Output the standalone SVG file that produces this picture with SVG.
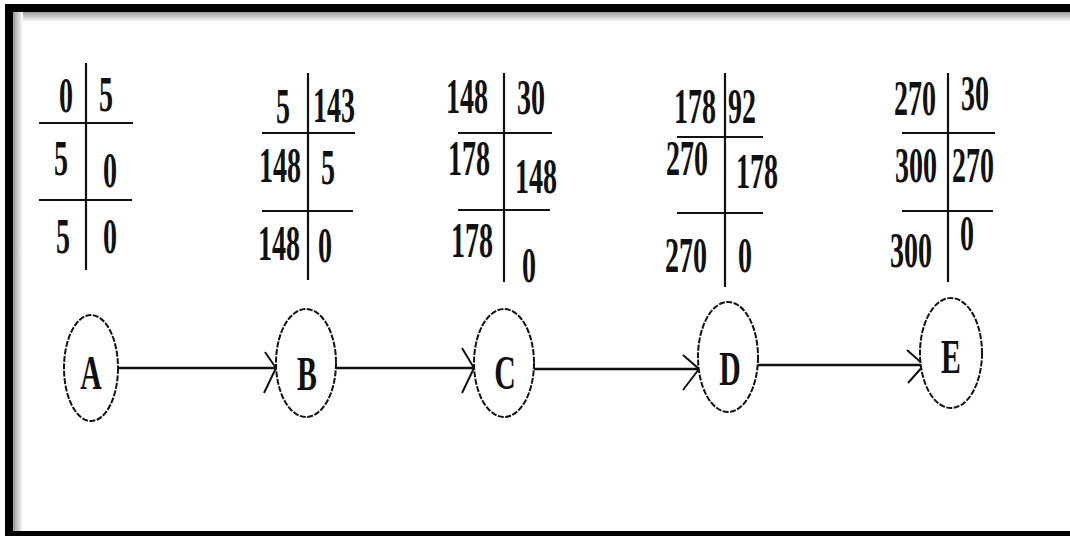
<svg xmlns="http://www.w3.org/2000/svg" width="1070" height="536" viewBox="0 0 1070 536">
<defs>
<linearGradient id="gTop" x1="0" y1="0" x2="0" y2="1"><stop offset="0" stop-color="#9a9a9a"/><stop offset="1" stop-color="#ffffff"/></linearGradient>
<linearGradient id="gLeft" x1="0" y1="0" x2="1" y2="0"><stop offset="0" stop-color="#9a9a9a"/><stop offset="1" stop-color="#ffffff"/></linearGradient>
<style>
.t{font-family:"Liberation Serif","Times New Roman",serif;font-weight:bold;font-size:50px;fill:#111;text-anchor:middle}
.L{font-size:48px}
.ln{stroke:#111;stroke-width:2.2;fill:none}
.nd{fill:#fff;stroke:#111;stroke-width:2;stroke-dasharray:6 1.5}
.ed{stroke:#111;stroke-width:2.6;fill:none}
.ah{stroke:#111;stroke-width:2;fill:none}
</style>
</defs>
<rect x="0" y="0" width="1070" height="536" fill="#fff"/>
<g id="frame">
<rect x="13" y="12" width="1057" height="10" fill="url(#gTop)"/>
<rect x="13" y="12" width="10" height="519" fill="url(#gLeft)"/>
<rect x="5" y="4" width="1065" height="8" fill="#000"/>
<rect x="5" y="4" width="8" height="532" fill="#000"/>
<rect x="5" y="531" width="1065" height="5" fill="#000"/>
</g>
<g id="table-A">
<path class="ln" d="M86 63V270M39 123H133M39 200H132"/>
<text class="t" transform="translate(66 112) scale(0.56 1)">0</text>
<text class="t" transform="translate(106 111) scale(0.56 1)">5</text>
<text class="t" transform="translate(61 175) scale(0.56 1)">5</text>
<text class="t" transform="translate(110 187) scale(0.56 1)">0</text>
<text class="t" transform="translate(63 253) scale(0.56 1)">5</text>
<text class="t" transform="translate(110 253) scale(0.56 1)">0</text>
</g>
<g id="table-B">
<path class="ln" d="M308 73V280M262 133H355M262 211H353"/>
<text class="t" transform="translate(283 123) scale(0.56 1)">5</text>
<text class="t" transform="translate(334 122) scale(0.56 1)">143</text>
<text class="t" transform="translate(280 182) scale(0.56 1)">148</text>
<text class="t" transform="translate(328 184) scale(0.56 1)">5</text>
<text class="t" transform="translate(279 260) scale(0.56 1)">148</text>
<text class="t" transform="translate(325 262) scale(0.56 1)">0</text>
</g>
<g id="table-C">
<path class="ln" d="M504 73V282M458 133H552M458 210H550"/>
<text class="t" transform="translate(467 113) scale(0.56 1)">148</text>
<text class="t" transform="translate(531 114) scale(0.56 1)">30</text>
<text class="t" transform="translate(469 175) scale(0.56 1)">178</text>
<text class="t" transform="translate(536 193) scale(0.56 1)">148</text>
<text class="t" transform="translate(472 257) scale(0.56 1)">178</text>
<text class="t" transform="translate(529 282) scale(0.56 1)">0</text>
</g>
<g id="table-D">
<path class="ln" d="M725 73V287M677 137H763M677 213H763"/>
<text class="t" transform="translate(695 123) scale(0.56 1)">178</text>
<text class="t" transform="translate(742 123) scale(0.56 1)">92</text>
<text class="t" transform="translate(687 175) scale(0.56 1)">270</text>
<text class="t" transform="translate(757 188) scale(0.56 1)">178</text>
<text class="t" transform="translate(686 272) scale(0.56 1)">270</text>
<text class="t" transform="translate(745 272) scale(0.56 1)">0</text>
</g>
<g id="table-E">
<path class="ln" d="M948 73V282M902 133H995M902 211H993"/>
<text class="t" transform="translate(915 115) scale(0.56 1)">270</text>
<text class="t" transform="translate(975 110) scale(0.56 1)">30</text>
<text class="t" transform="translate(916 182) scale(0.56 1)">300</text>
<text class="t" transform="translate(973 182) scale(0.56 1)">270</text>
<text class="t" transform="translate(911 267) scale(0.56 1)">300</text>
<text class="t" transform="translate(967 250) scale(0.56 1)">0</text>
</g>
<g id="connectors">
<path class="ed" d="M119 368H276"/>
<path class="ah" d="M265 352L276 368L264 393"/>
<path class="ed" d="M336 368H474"/>
<path class="ah" d="M462 348L474 368L462 393"/>
<path class="ed" d="M534 369H699"/>
<path class="ah" d="M683 355L699 369L683 390"/>
<path class="ed" d="M758 365H924"/>
<path class="ah" d="M907 350L924 365L908 383"/>
</g>
<g id="node-A">
<ellipse class="nd" cx="91" cy="368" rx="27" ry="53"/>
<text class="t L" transform="translate(91 389) scale(0.62 1)">A</text>
</g>
<g id="node-B">
<ellipse class="nd" cx="306" cy="363" rx="30" ry="54"/>
<text class="t L" transform="translate(307 390) scale(0.62 1)">B</text>
</g>
<g id="node-C">
<ellipse class="nd" cx="504" cy="363" rx="30" ry="54"/>
<text class="t L" transform="translate(505 389) scale(0.62 1)">C</text>
</g>
<g id="node-D">
<ellipse class="nd" cx="728" cy="357" rx="30" ry="55"/>
<text class="t L" transform="translate(730 385) scale(0.62 1)">D</text>
</g>
<g id="node-E">
<ellipse class="nd" cx="951" cy="353" rx="31" ry="55"/>
<text class="t L" transform="translate(951 373) scale(0.62 1)">E</text>
</g>
</svg>
